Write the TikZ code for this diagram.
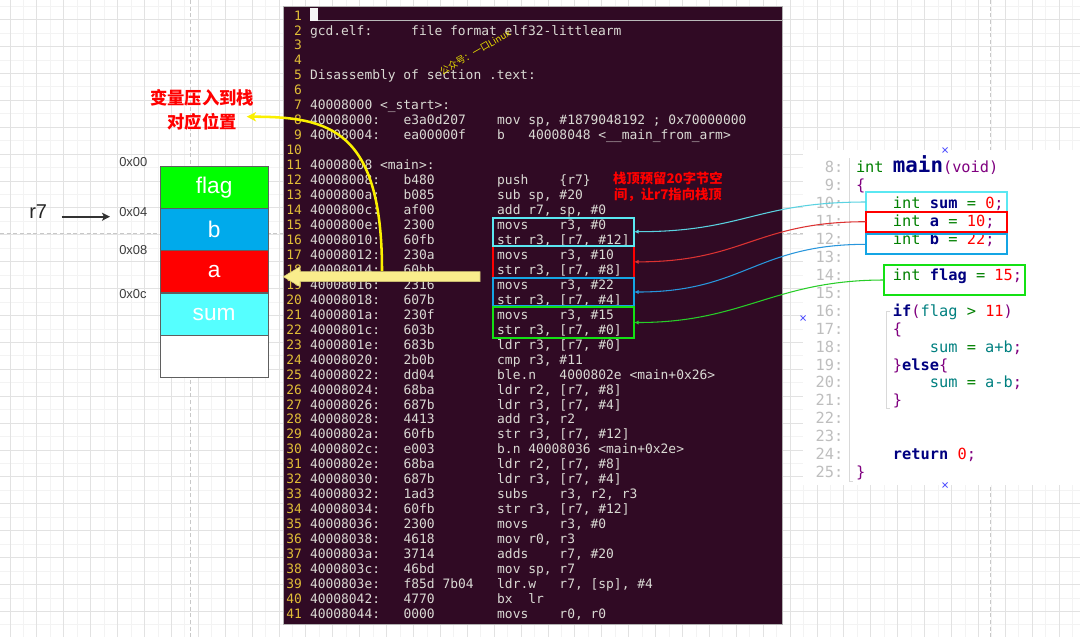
\documentclass[tikz,border=0pt]{standalone}
\usepackage{fontspec}
\setmonofont{DejaVu Sans Mono}
\newfontfamily\lsans{Liberation Sans}
\newfontfamily\cjk{Noto Sans CJK SC}
\usetikzlibrary{arrows.meta,fit}
\definecolor{termbg}{RGB}{48,10,36}
\definecolor{termfg}{RGB}{218,218,212}
\definecolor{lnyel}{RGB}{225,190,55}
\definecolor{gmaj}{RGB}{226,226,226}
\definecolor{gmin}{RGB}{243,243,243}
\definecolor{gdash}{RGB}{200,200,200}
\definecolor{bxcyan}{RGB}{90,232,242}
\definecolor{bxred}{RGB}{255,0,0}
\definecolor{bxblue}{RGB}{20,165,228}
\definecolor{bxgreen}{RGB}{20,225,20}
\definecolor{lcyan}{RGB}{90,210,225}
\definecolor{lred}{RGB}{220,50,50}
\definecolor{lblue}{RGB}{40,150,220}
\definecolor{lgreen}{RGB}{40,205,40}
\definecolor{skgreen}{RGB}{0,255,0}
\definecolor{skblue}{RGB}{0,170,235}
\definecolor{skred}{RGB}{255,0,0}
\definecolor{skcyan}{RGB}{85,255,255}
\definecolor{skborder}{RGB}{95,95,95}
\definecolor{fatyel}{RGB}{250,237,140}
\definecolor{curveyel}{RGB}{250,240,0}
\definecolor{wmyel}{RGB}{235,225,0}
\definecolor{ckw}{RGB}{0,128,0}
\definecolor{cnavy}{RGB}{0,0,128}
\definecolor{cred}{RGB}{255,0,0}
\definecolor{cpur}{RGB}{128,0,128}
\definecolor{cteal}{RGB}{0,128,128}
\definecolor{cgray}{RGB}{190,190,190}
\definecolor{labgray}{RGB}{60,60,60}
\definecolor{xblue}{RGB}{90,90,255}
\newcommand\tfont{\ttfamily\fontsize{9.7}{11}\selectfont}
\newcommand\cfont{\ttfamily\fontsize{11.5}{13}\selectfont}
\newcommand\ccKw[1]{\textcolor{ckw}{#1}}
\newcommand\ccVr[1]{\textcolor{cnavy}{\bfseries #1}}
\newcommand\ccNm[1]{\textcolor{cred}{#1}}
\newcommand\ccPu[1]{\textcolor{cpur}{#1}}
\newcommand\ccTl[1]{\textcolor{cteal}{#1}}
\newcommand\asm[4]{%
  \node[lnum] (n#1) at (302,{5.1+14.96*#1}) {#1};
  \node[tt] (a#1) at (310,{5.1+14.96*#1}) {#2};
  \node[tt] (h#1) at (403.6,{5.1+14.96*#1}) {#3};
  \node[tt] (i#1) at (497.2,{5.1+14.96*#1}) {#4};}
\newcommand\lnonly[1]{\node[lnum] (n#1) at (302,{5.1+14.96*#1}) {#1};}
\newcommand\codeln[3]{%
  \node[cgut] (cn#1) at (843.3,{172.7+17.94*(#1-8)}) {#1:};
  \node[ctext] (cl#1) at ({856+9.23*#2},{172.7+17.94*(#1-8)}) {#3};}
\begin{document}
\begin{tikzpicture}[x=0.75pt,y=-0.75pt,
  tt/.style={anchor=base west, inner sep=0, outer sep=0, text=termfg, font=\tfont},
  lnum/.style={anchor=base east, inner sep=0, outer sep=0, text=lnyel, font=\tfont},
  cgut/.style={anchor=base east, inner sep=0, outer sep=0, text=cgray, font=\cfont},
  ctext/.style={anchor=base west, inner sep=0, outer sep=0, font=\cfont},
  tbox/.style={inner sep=0, outer sep=0, line width=1.5pt},
  cbox/.style={inner sep=0, outer sep=0, line width=1.5pt},
  conn/.style={line width=0.8pt, -{Latex[length=3.5pt,width=3.2pt]}},
  stk/.style={draw=skborder, line width=0.6pt, minimum width=81.2pt, minimum height=31.7pt,
    anchor=north west, inner sep=0, outer sep=0, text=white, font=\lsans\fontsize{17}{20}\selectfont},
  addr/.style={anchor=base west, inner sep=0, text=labgray, font=\lsans\fontsize{9.7}{11}\selectfont},
  xmark/.style={draw=xblue, line width=0.6pt}]
\useasboundingbox (0,0) rectangle (1080,637);
\fill[white] (0,0) rectangle (1080,637);
% grid
\begin{scope}
\clip (0,0) rectangle (1080,637);
\foreach \k in {-1,...,40} \draw[gmin, line width=0.6pt] ({23.45+26.9*\k},0) -- ({23.45+26.9*\k},637);
\foreach \k in {0,...,24} \draw[gmin, line width=0.6pt] (0,{6.15+26.9*\k}) -- (1080,{6.15+26.9*\k});
\foreach \k in {0,...,40} \draw[gmaj, line width=0.7pt] ({10+26.9*\k},0) -- ({10+26.9*\k},637);
\foreach \k in {0,...,23} \draw[gmaj, line width=0.7pt] (0,{19.6+26.9*\k}) -- (1080,{19.6+26.9*\k});
\draw[gdash, line width=0.6pt, dash pattern=on 3pt off 2pt] (190,0) -- (190,637) (990.7,0) -- (990.7,637) (0,233) -- (1080,233);
\end{scope}
% terminal
\filldraw[fill=termbg, draw=gray!60, line width=0.4pt] (283,6) rectangle (782,624);
\fill[white!92!gray] (310,7.5) rectangle (318.3,21);
\draw[gray!55, line width=0.7pt] (318.3,20.5) -- (782,20.5);
\lnonly{1}
\lnonly{2}\node[tt] (t2) at (310,{5.1+14.96*2}) {gcd.elf:~~~~~file format elf32-littlearm};
\lnonly{3}\lnonly{4}
\lnonly{5}\node[tt] (t5) at (310,{5.1+14.96*5}) {Disassembly of section .text:};
\lnonly{6}
\lnonly{7}\node[tt] (t7) at (310,{5.1+14.96*7}) {40008000 <\_start>:};
\asm{8}{40008000:}{e3a0d207}{mov sp, \#1879048192 ; 0x70000000}
\asm{9}{40008004:}{ea00000f}{b~~~40008048 <\_\_main\_from\_arm>}
\lnonly{10}
\lnonly{11}\node[tt] (t11) at (310,{5.1+14.96*11}) {40008008 <main>:};
\asm{12}{40008008:}{b480}{push~~~~\{r7\}}
\asm{13}{4000800a:}{b085}{sub sp, \#20}
\asm{14}{4000800c:}{af00}{add r7, sp, \#0}
\asm{15}{4000800e:}{2300}{movs~~~~r3, \#0}
\asm{16}{40008010:}{60fb}{str r3, [r7, \#12]}
\asm{17}{40008012:}{230a}{movs~~~~r3, \#10}
\asm{18}{40008014:}{60bb}{str r3, [r7, \#8]}
\asm{19}{40008016:}{2316}{movs~~~~r3, \#22}
\asm{20}{40008018:}{607b}{str r3, [r7, \#4]}
\asm{21}{4000801a:}{230f}{movs~~~~r3, \#15}
\asm{22}{4000801c:}{603b}{str r3, [r7, \#0]}
\asm{23}{4000801e:}{683b}{ldr r3, [r7, \#0]}
\asm{24}{40008020:}{2b0b}{cmp r3, \#11}
\asm{25}{40008022:}{dd04}{ble.n~~~4000802e <main+0x26>}
\asm{26}{40008024:}{68ba}{ldr r2, [r7, \#8]}
\asm{27}{40008026:}{687b}{ldr r3, [r7, \#4]}
\asm{28}{40008028:}{4413}{add r3, r2}
\asm{29}{4000802a:}{60fb}{str r3, [r7, \#12]}
\asm{30}{4000802c:}{e003}{b.n 40008036 <main+0x2e>}
\asm{31}{4000802e:}{68ba}{ldr r2, [r7, \#8]}
\asm{32}{40008030:}{687b}{ldr r3, [r7, \#4]}
\asm{33}{40008032:}{1ad3}{subs~~~~r3, r2, r3}
\asm{34}{40008034:}{60fb}{str r3, [r7, \#12]}
\asm{35}{40008036:}{2300}{movs~~~~r3, \#0}
\asm{36}{40008038:}{4618}{mov r0, r3}
\asm{37}{4000803a:}{3714}{adds~~~~r7, \#20}
\asm{38}{4000803c:}{46bd}{mov sp, r7}
\asm{39}{4000803e:}{f85d 7b04}{ldr.w~~~r7, [sp], \#4}
\asm{40}{40008042:}{4770}{bx~~lr}
\asm{41}{40008044:}{0000}{movs~~~~r0, r0}
% boxes in terminal
\node[tbox, draw=bxred, fit={(492.7,245.7) (634,278)}] (ta) {};
\node[tbox, draw=bxcyan, fit={(492.7,217.7) (634,245.7)}] (tsum) {};
\node[tbox, draw=bxblue, fit={(492.7,278.3) (634,305.7)}] (tb) {};
\node[tbox, draw=bxgreen, fit={(492.7,306.7) (634,338.3)}] (tflag) {};
% red note in terminal
\node[text=red, align=center, font=\cjk\bfseries\fontsize{10}{12.5}\selectfont, inner sep=0] (note) at (668,186.7) {栈顶预留20字节空\\间，让r7指向栈顶};
% watermark
\node[rotate=30, text=wmyel, font=\cjk\fontsize{7}{8}\selectfont, inner sep=0] (wm) at (475,52) {公众号：一口Linux};
% fat arrow
\filldraw[fill=fatyel, draw=fatyel!85!black, line width=0.4pt] (283.3,276.7) -- (300,266.7) -- (300,271.7) -- (480,271.7) -- (480,281.7) -- (300,281.7) -- (300,286.7) -- cycle;
% left label
\node[text=red, align=center, font=\cjk\bfseries\fontsize{13}{17.5}\selectfont, inner sep=0] (lbl) at (202,110) {变量压入到栈\\对应位置};
\coordinate (ycs) at (382,271);
\coordinate (yce) at (246.7,116.7);
\draw[curveyel, line width=1.9pt, -{Stealth[length=7pt,width=7pt,inset=2pt]}] (ycs) .. controls (382,130) and (330,116.7) .. (yce);
% stack
\node[stk, fill=skgreen] (sflag) at (160,166) {flag};
\node[stk, fill=skblue] (sb) at (160,208.3) {b};
\node[stk, fill=skred] (sa) at (160,250.6) {a};
\node[stk, fill=skcyan] (ssum) at (160,292.9) {sum};
\node[stk, fill=white, minimum height=31.9pt] (sempty) at (160,335.2) {};
\node[addr] (o0) at (119,166) {0x00};
\node[addr] (o4) at (119,216) {0x04};
\node[addr] (o8) at (119,254.3) {0x08};
\node[addr] (oc) at (119,298.3) {0x0c};
\node[anchor=base west, inner sep=0, text=black!85, font=\lsans\fontsize{15}{17}\selectfont] (r7) at (29,218.3) {r7};
\coordinate (r7s) at (61.7,216.7);
\coordinate (r7e) at (110,216.7);
\draw[black!80, line width=1.2pt, -{Stealth[length=6pt,width=6pt,inset=1.5pt]}] (r7s) -- (r7e);
% right code panel
\fill[white] (803,150) rectangle (1080,485);
\draw[gray!30, line width=0.6pt] (849.3,158) -- (849.3,481) -- (853,481);
\draw[gray!30, line width=0.6pt] (890,311) -- (886.7,311) -- (886.7,408.5) -- (890,408.5);
\codeln{8}{0}{\ccKw{int}~{\fontsize{15.6}{16}\selectfont\bfseries\color{cnavy}main}\ccPu{(void)}}
\codeln{9}{0}{\ccPu{\{}}
\codeln{10}{4}{\ccKw{int}~\ccVr{sum}~\ccKw{=}~\ccNm{0}\ccPu{;}}
\codeln{11}{4}{\ccKw{int}~\ccVr{a}~\ccKw{=}~\ccNm{10}\ccPu{;}}
\codeln{12}{4}{\ccKw{int}~\ccVr{b}~\ccKw{=}~\ccNm{22}\ccPu{;}}
\codeln{13}{4}{}
\codeln{14}{4}{\ccKw{int}~\ccVr{flag}~\ccKw{=}~\ccNm{15}\ccPu{;}}
\codeln{15}{4}{}
\codeln{16}{4}{\ccVr{if}\ccPu{(}\ccTl{flag}~\ccKw{>}~\ccNm{11}\ccPu{)}}
\codeln{17}{4}{\ccPu{\{}}
\codeln{18}{8}{\ccTl{sum}~\ccKw{=}~\ccTl{a+b}\ccPu{;}}
\codeln{19}{4}{\ccPu{\}}\ccVr{else}\ccPu{\{}}
\codeln{20}{8}{\ccTl{sum}~\ccKw{=}~\ccTl{a-b}\ccPu{;}}
\codeln{21}{4}{\ccPu{\}}}
\codeln{22}{4}{}
\codeln{23}{4}{}
\codeln{24}{4}{\ccVr{return}~\ccNm{0}\ccPu{;}}
\codeln{25}{0}{\ccPu{\}}}
\node[cbox, draw=bxcyan, fit={(866,192.3) (1007.3,211.7)}] (csum) {};
\node[cbox, draw=bxred, fit={(866,211.7) (1007.3,231.7)}] (ca) {};
\node[cbox, draw=bxblue, fit={(866,234.3) (1007.3,254.3)}] (cb) {};
\node[cbox, draw=bxgreen, fit={(884,265) (1025,295)}] (cflag) {};
% selection marks
\draw[xmark] (942.5,147.5) -- (947.5,152.5) (942.5,152.5) -- (947.5,147.5);
\draw[xmark] (800.5,315.5) -- (805.5,320.5) (800.5,320.5) -- (805.5,315.5);
\draw[xmark] (942.5,482.5) -- (947.5,487.5) (942.5,487.5) -- (947.5,482.5);
% connectors
\draw[conn, lcyan] (csum.west) .. controls +(-110,0) and +(110,0) .. (tsum.east);
\draw[conn, lred] (ca.west) .. controls +(-110,0) and +(110,0) .. (ta.east);
\draw[conn, lblue] (cb.west) .. controls +(-110,0) and +(110,0) .. (tb.east);
\draw[conn, lgreen] (cflag.west) .. controls +(-110,0) and +(110,0) .. (tflag.east);
\end{tikzpicture}
\end{document}
